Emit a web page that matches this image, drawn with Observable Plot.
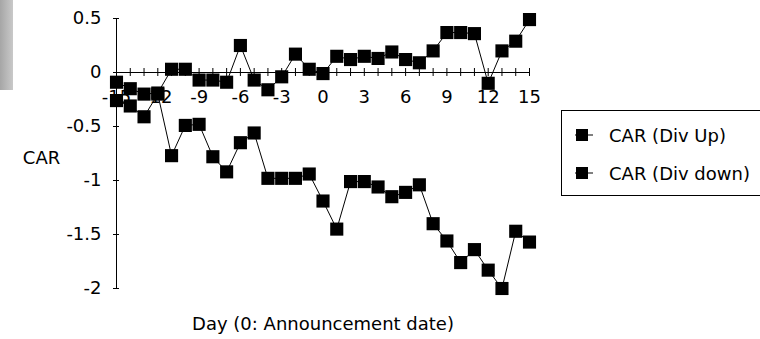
<!DOCTYPE html>
<html>
<head>
<meta charset="utf-8">
<script src="https://cdn.jsdelivr.net/npm/d3@7"></script>
<script src="https://cdn.jsdelivr.net/npm/@observablehq/plot@0.6"></script>
<style>
  html, body { margin: 0; padding: 0; background: #fff; }
  #wrap { position: relative; width: 760px; height: 339px; overflow: hidden; font-family: "DejaVu Sans", Verdana, sans-serif; }
  #graybar { position: absolute; left: 0; top: 0; width: 13px; height: 90px; background: linear-gradient(to right, #a6a6a6, #c9c9c9); }
  #legend { position: absolute; left: 561px; top: 110px; width: 210px; height: 86px; border: 1px solid #000; box-sizing: border-box; background: #fff; font-size: 18px; }
  .item { position: absolute; left: 12px; height: 22px; display: flex; align-items: center; white-space: nowrap; }
  .item svg { margin-right: 15px; }
</style>
</head>
<body>
<div id="wrap">
  <div id="graybar"></div>
  <div id="chart"></div>
  <div id="legend"></div>
</div>
<script>
const days = [-15,-14,-13,-12,-11,-10,-9,-8,-7,-6,-5,-4,-3,-2,-1,0,1,2,3,4,5,6,7,8,9,10,11,12,13,14,15];
const carDivUp = [-0.09,-0.15,-0.20,-0.19,0.03,0.03,-0.07,-0.07,-0.09,0.25,-0.07,-0.16,-0.04,0.17,0.03,-0.01,0.15,0.12,0.15,0.13,0.19,0.12,0.09,0.20,0.37,0.37,0.36,-0.10,0.20,0.29,0.49];
const carDivDown = [-0.26,-0.31,-0.41,-0.20,-0.77,-0.49,-0.48,-0.78,-0.92,-0.65,-0.56,-0.98,-0.98,-0.98,-0.94,-1.19,-1.45,-1.01,-1.01,-1.06,-1.15,-1.11,-1.04,-1.40,-1.56,-1.76,-1.64,-1.83,-2.00,-1.47,-1.57];
const seriesNames = ["CAR (Div Up)", "CAR (Div down)"];
const xTickLabels = [-15,-12,-9,-6,-3,0,3,6,9,12,15];
const yTicks = [-2,-1.5,-1,-0.5,0,0.5];
const xLabel = "Day (0: Announcement date)";
const yLabel = "CAR";

const rows = [];
days.forEach((d, i) => {
  rows.push({day: d, car: carDivUp[i], series: seriesNames[0]});
});
days.forEach((d, i) => {
  rows.push({day: d, car: carDivDown[i], series: seriesNames[1]});
});

const chart = Plot.plot({
  width: 760,
  height: 339,
  marginLeft: 116,
  marginRight: 231,
  marginTop: 18,
  marginBottom: 51,
  x: {domain: [days[0], days[days.length - 1]], axis: null},
  y: {domain: [yTicks[0], yTicks[yTicks.length - 1]], axis: null},
  style: {fontFamily: "'DejaVu Sans', Verdana, sans-serif", fontSize: "18px", color: "#000", background: "transparent"},
  marks: [
    Plot.ruleX([days[0]], {stroke: "#000", strokeWidth: 1}),
    Plot.ruleY([0], {stroke: "#000", strokeWidth: 1}),
    Plot.ruleX(days, {x: d => d, y1: 0, y2: 0, insetTop: -4, insetBottom: -4, stroke: "#000"}),
    Plot.ruleY(yTicks, {y: d => d, x1: days[0], x2: days[0], insetLeft: -3, insetRight: -3, stroke: "#000"}),
    Plot.text(yTicks, {x: days[0], y: d => d, text: d => String(d), textAnchor: "end", dx: -15, fill: "#000"}),
    Plot.text(xTickLabels, {x: d => d, y: 0, text: d => String(d), dy: 25, fill: "#000"}),
    Plot.text([xLabel], {frameAnchor: "bottom", text: d => d, dy: 41, fill: "#000"}),
    Plot.text([yLabel], {frameAnchor: "left", textAnchor: "middle", text: d => d, dx: -75, dy: 5, fill: "#000"}),
    Plot.line(rows, {x: "day", y: "car", z: "series", stroke: "#000", strokeWidth: 1}),
    Plot.dot(rows, {x: "day", y: "car", symbol: "square", r: 7.4, fill: "#000", stroke: "none"})
  ]
});
document.getElementById("chart").appendChild(chart);

const legend = document.getElementById("legend");
const legendTops = [13, 51];
seriesNames.forEach((name, i) => {
  const item = document.createElement("div");
  item.className = "item";
  item.style.top = legendTops[i] + "px";
  item.innerHTML = '<svg width="20" height="14"><line x1="1" y1="7" x2="19" y2="7" stroke="#000"/><rect x="2" y="1" width="12" height="12" fill="#000"/></svg><span></span>';
  item.querySelector("span").textContent = name;
  legend.appendChild(item);
});
</script>
</body>
</html>
